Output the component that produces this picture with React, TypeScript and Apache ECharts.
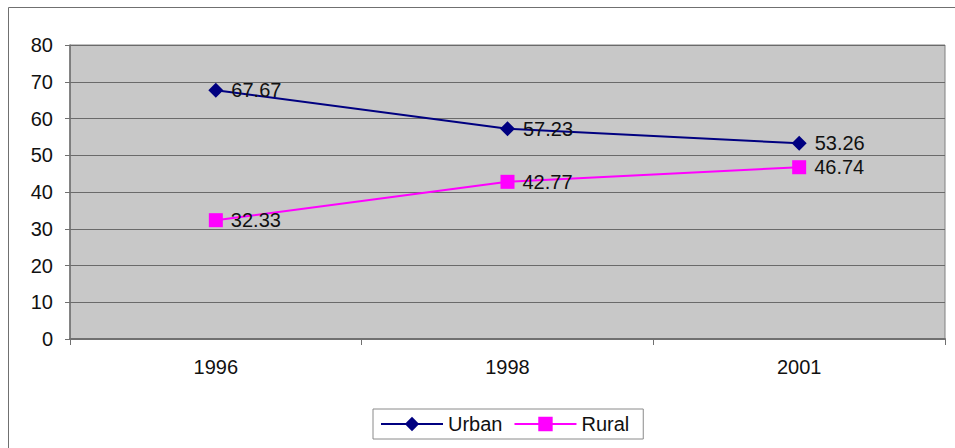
import React, { useEffect, useRef } from "react";
import * as echarts from "echarts";

const years = ["1996", "1998", "2001"];
const urban = [67.67, 57.23, 53.26];
const rural = [32.33, 42.77, 46.74];
const yMin = 0;
const yMax = 80;
const yStep = 10;

const FONT = "Liberation Sans, Arial, sans-serif";
const FS = 20;

export default function App() {
  const ref = useRef<HTMLDivElement>(null);

  useEffect(() => {
    document.body.style.margin = "0";
    const chart = echarts.init(ref.current!, null, { renderer: "svg" });
    const label = {
      show: true,
      position: "right" as const,
      distance: 8,
      color: "#111",
      fontSize: FS,
      fontFamily: FONT,
      formatter: (p: any) => Number(p.value).toFixed(2),
    };
    chart.setOption({
      animation: false,
      backgroundColor: "#fff",
      textStyle: { fontFamily: FONT },
      grid: {
        left: 70,
        right: 10,
        top: 45,
        bottom: 109,
        show: true,
        backgroundColor: "#C8C8C8",
        borderColor: "#808080",
        borderWidth: 1,
      },
      xAxis: {
        type: "category",
        data: years,
        boundaryGap: true,
        axisLine: { show: true, lineStyle: { color: "#707070", width: 2 } },
        axisTick: { show: true, length: 6, alignWithLabel: false, lineStyle: { color: "#707070" } },
        axisLabel: { color: "#111", fontSize: FS, fontFamily: FONT, margin: 18 },
      },
      yAxis: {
        type: "value",
        min: yMin,
        max: yMax,
        interval: yStep,
        axisLine: { show: true, lineStyle: { color: "#707070", width: 1.5 } },
        axisTick: { show: true, length: 5, lineStyle: { color: "#707070" } },
        axisLabel: { color: "#111", fontSize: FS, fontFamily: FONT, margin: 17 },
        splitLine: { show: true, lineStyle: { color: "#6a6a6a", width: 1 } },
      },
      legend: {
        left: 373,
        top: 409,
        orient: "horizontal",
        itemWidth: 62,
        itemHeight: 18,
        itemGap: 11,
        padding: [5, 14, 5, 7],
        borderColor: "#8a8a8a",
        borderWidth: 1,
        backgroundColor: "#fff",
        textStyle: { color: "#111", fontSize: FS, fontFamily: FONT },
        data: ["Urban", "Rural"],
      },
      graphic: [
        {
          type: "rect",
          shape: { x: 8.5, y: 7.5, width: 1200, height: 1200 },
          style: { fill: "none", stroke: "#707070", lineWidth: 1 },
          silent: true,
          z: -10,
        },
      ],
      series: [
        {
          name: "Urban",
          type: "line",
          data: urban,
          color: "#000080",
          symbol: "diamond",
          symbolSize: 15,
          lineStyle: { color: "#000080", width: 2 },
          itemStyle: { color: "#000080" },
          label,
        },
        {
          name: "Rural",
          type: "line",
          data: rural,
          color: "#FF00FF",
          symbol: "rect",
          symbolSize: 14,
          lineStyle: { color: "#FF00FF", width: 2 },
          itemStyle: { color: "#FF00FF" },
          label,
        },
      ],
    });
    return () => chart.dispose();
  }, []);

  return <div ref={ref} style={{ width: 955, height: 448 }} />;
}
